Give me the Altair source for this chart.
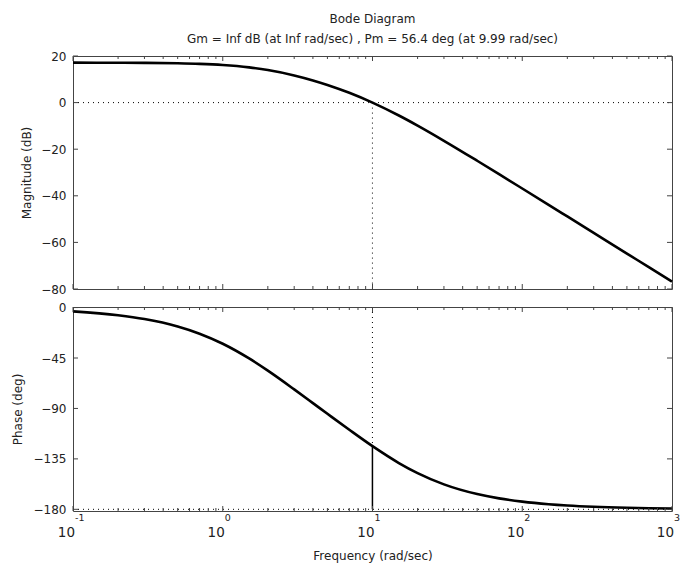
import altair as alt
import pandas as pd

# ---- data ----
freq = [0.1, 0.2, 0.3, 0.5, 0.7, 1, 1.5, 2, 3, 4, 5, 7, 10, 15, 20, 30, 50, 70,
        100, 150, 200, 300, 500, 700, 1000]
mag_db = [17.15, 17.11, 17.06, 16.89, 16.64, 16.15, 15.12, 13.98, 11.67, 9.53,
          7.59, 4.21, 0.00, -5.54, -9.87, -16.38, -24.96, -30.72, -36.87,
          -43.88, -48.87, -55.91, -64.78, -70.63, -76.82]
phase_deg = [-3.43, -6.86, -10.25, -16.90, -23.29, -32.28, -45.40, -56.31,
             -73.01, -85.23, -94.77, -109.04, -123.69, -138.72, -147.72,
             -157.76, -166.40, -170.23, -173.14, -175.43, -176.57, -177.71,
             -178.62, -179.02, -179.31]

wc = 9.99            # gain crossover frequency
phase_at_wc = -123.6

major_ticks = [0.1, 1, 10, 100, 1000]
major_exp = ["-1", "0", "1", "2", "3"]
minor_ticks = [0.2, 0.3, 0.4, 0.5, 0.6, 0.7, 0.8, 0.9,
               2, 3, 4, 5, 6, 7, 8, 9,
               20, 30, 40, 50, 60, 70, 80, 90,
               200, 300, 400, 500, 600, 700, 800, 900]
mag_ticks = [20, 0, -20, -40, -60, -80]
phase_ticks = [0, -45, -90, -135, -180]

title_lines = ["Bode Diagram",
               "Gm = Inf dB (at Inf rad/sec) ,  Pm = 56.4 deg (at 9.99 rad/sec)"]

FONT = "DejaVu Sans"
TXT = "#222222"
FRAME = "#444444"
W = 599
H1 = 233
H2 = 204

curve = pd.DataFrame({"f": freq, "mag": mag_db, "ph": phase_deg})
dmaj = pd.DataFrame({"v": major_ticks, "base": ["10"] * 5, "exp": major_exp})
dmin = pd.DataFrame({"v": minor_ticks})

xscale = alt.Scale(type="log", domain=[0.1, 1000], nice=False)
yscale1 = alt.Scale(domain=[-80, 20], nice=False, zero=False)
yscale2 = alt.Scale(domain=[-181.5, 0.5], nice=False, zero=False)

mag_axis = alt.Axis(values=mag_ticks, ticks=False, domain=False, grid=False,
                    labelPadding=7, labelFont=FONT, labelFontSize=12,
                    labelColor=TXT, title="Magnitude (dB)", titleFont=FONT,
                    titleFontSize=12, titleFontWeight="normal", titleColor=TXT,
                    titleX=-47, titleY=H1 / 2, titleAngle=270,
                    titleAlign="center", titleBaseline="middle")
ph_axis = alt.Axis(values=phase_ticks, ticks=False, domain=False, grid=False,
                   labelPadding=7, labelFont=FONT, labelFontSize=12,
                   labelColor=TXT, title="Phase (deg)", titleFont=FONT,
                   titleFontSize=12, titleFontWeight="normal", titleColor=TXT,
                   titleX=-56, titleY=H2 / 2, titleAngle=270,
                   titleAlign="center", titleBaseline="middle")
freq_axis = alt.Axis(values=major_ticks, labels=False, ticks=False,
                     domain=False, grid=False,
                     title="Frequency  (rad/sec)", titleFont=FONT,
                     titleFontSize=12, titleFontWeight="normal",
                     titleColor=TXT, titleX=W / 2, titleY=44,
                     titleAlign="center", titleBaseline="middle")


def X(field, axis):
    return alt.X(field, scale=xscale, axis=axis)


def xticks(H, xaxis):
    layers = []
    for df, L in ((dmaj, 5), (dmin, 3)):
        base = alt.Chart(df).mark_rule(color=FRAME, strokeWidth=1)
        layers.append(base.encode(x=X("v:Q", xaxis),
                                  y=alt.value(0), y2=alt.value(L)))
        layers.append(base.encode(x=X("v:Q", xaxis),
                                  y=alt.value(H - L), y2=alt.value(H)))
    return layers


def yticks(vals, yscale, yaxis):
    df = pd.DataFrame({"t": vals})
    base = alt.Chart(df).mark_rule(color=FRAME, strokeWidth=1)
    return [
        base.encode(y=alt.Y("t:Q", scale=yscale, axis=yaxis),
                    x=alt.value(0), x2=alt.value(5)),
        base.encode(y=alt.Y("t:Q", scale=yscale, axis=yaxis),
                    x=alt.value(W - 5), x2=alt.value(W)),
    ]


# ---------------- magnitude panel ----------------
mag_line = alt.Chart(curve).mark_line(color="black", strokeWidth=2.6,
                                      interpolate="monotone").encode(
    x=X("f:Q", None),
    y=alt.Y("mag:Q", scale=yscale1, axis=mag_axis),
)
zero_db = alt.Chart(pd.DataFrame({"y": [0], "x1": [0.1], "x2": [1000]})).mark_rule(
    color="black", strokeWidth=1, strokeDash=[1, 4]).encode(
    x=X("x1:Q", None), x2="x2:Q",
    y=alt.Y("y:Q", scale=yscale1, axis=mag_axis))
wc_mag = alt.Chart(pd.DataFrame({"x": [wc], "y1": [0], "y2": [-80]})).mark_rule(
    color="black", strokeWidth=1, strokeDash=[1, 4]).encode(
    x=X("x:Q", None),
    y=alt.Y("y1:Q", scale=yscale1, axis=mag_axis), y2="y2:Q")

top = alt.layer(mag_line, zero_db, wc_mag, *xticks(H1, None),
                *yticks(mag_ticks, yscale1, mag_axis)).properties(
    width=W, height=H1,
    title=alt.TitleParams(title_lines, font=FONT, fontSize=12,
                          fontWeight="normal", color=TXT, anchor="middle",
                          offset=4, lineHeight=20))

# ---------------- phase panel ----------------
ph_line = alt.Chart(curve).mark_line(color="black", strokeWidth=2.6,
                                     interpolate="monotone").encode(
    x=X("f:Q", freq_axis),
    y=alt.Y("ph:Q", scale=yscale2, axis=ph_axis),
)
m180 = alt.Chart(pd.DataFrame({"y": [-180], "x1": [0.1], "x2": [1000]})).mark_rule(
    color="black", strokeWidth=1, strokeDash=[1, 4]).encode(
    x=X("x1:Q", freq_axis), x2="x2:Q",
    y=alt.Y("y:Q", scale=yscale2, axis=ph_axis))
wc_ph_dot = alt.Chart(pd.DataFrame({"x": [wc], "y1": [0.5], "y2": [phase_at_wc]})).mark_rule(
    color="black", strokeWidth=1, strokeDash=[1, 4]).encode(
    x=X("x:Q", freq_axis),
    y=alt.Y("y1:Q", scale=yscale2, axis=ph_axis), y2="y2:Q")
wc_ph_solid = alt.Chart(pd.DataFrame({"x": [wc], "y1": [phase_at_wc], "y2": [-180]})).mark_rule(
    color="black", strokeWidth=1.5).encode(
    x=X("x:Q", freq_axis),
    y=alt.Y("y1:Q", scale=yscale2, axis=ph_axis), y2="y2:Q")

lab_base = alt.Chart(dmaj).mark_text(font=FONT, fontSize=13.5, color=TXT,
                                     align="right", baseline="alphabetic",
                                     dx=2).encode(
    x=X("v:Q", freq_axis), y=alt.value(H2 + 26), text="base:N")
lab_exp = alt.Chart(dmaj).mark_text(font=FONT, fontSize=9.5, color=TXT,
                                    align="left", baseline="alphabetic",
                                    dx=2).encode(
    x=X("v:Q", freq_axis), y=alt.value(H2 + 10), text="exp:N")

bottom = alt.layer(ph_line, m180, wc_ph_dot, wc_ph_solid, *xticks(H2, freq_axis),
                   *yticks(phase_ticks, yscale2, ph_axis), lab_base, lab_exp).properties(
    width=W, height=H2)

chart = alt.vconcat(top, bottom, spacing=5).properties(
    padding={"left": 10, "top": 12, "right": 0, "bottom": 2},
    background="white",
).configure_view(stroke=FRAME, strokeWidth=1)

chart.save("out.html", embed_options={"renderer": "svg", "actions": False})
